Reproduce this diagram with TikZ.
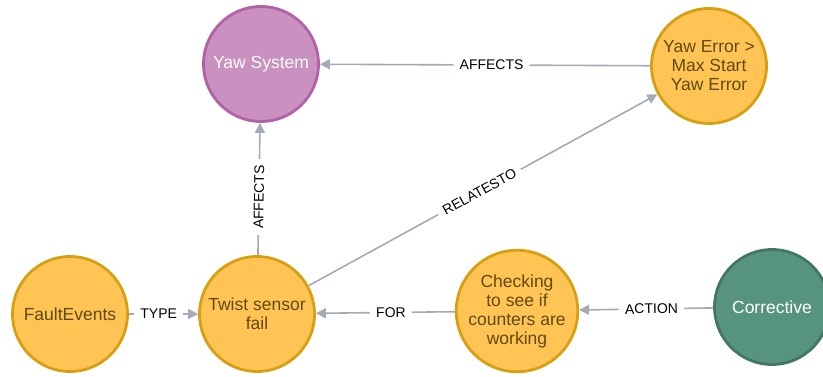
\documentclass[tikz,border=0pt]{standalone}
\usepackage{fontspec}
\setmainfont{Liberation Sans}
\usepackage{xcolor}
\usetikzlibrary{arrows.meta,positioning}

\definecolor{sysfill}{HTML}{C990C0}
\definecolor{sysline}{HTML}{B261A5}
\definecolor{evfill}{HTML}{FFC454}
\definecolor{evline}{HTML}{D7A013}
\definecolor{evtext}{HTML}{604A0E}
\definecolor{actfill}{HTML}{569480}
\definecolor{actline}{HTML}{447666}
\definecolor{relgray}{HTML}{A5ABB6}

\tikzset{
  gnode/.style={circle, line width=2.8pt, minimum size=115pt, inner sep=0pt,
    align=center, font=\fontsize{17.5}{19}\selectfont},
  sysnode/.style={gnode, draw=sysline, fill=sysfill, text=white},
  evnode/.style={gnode, draw=evline, fill=evfill, text=evtext},
  actnode/.style={gnode, draw=actline, fill=actfill, text=white},
  rel/.style={draw=relgray, line width=1.6pt, -{Triangle[length=10pt,width=10pt]}},
  rellabel/.style={fill=white, text=black, sloped, inner xsep=6pt, inner ysep=2pt,
    font=\fontsize{14}{16}\selectfont}
}

\begin{document}
\begin{tikzpicture}[x=1pt, y=-1pt]
\useasboundingbox (0,0) rectangle (823,377);

% Top row
\node[sysnode] (yawsys) at (261,64) {Yaw System};
\node[evnode] (yawerr) at (709,66) {Yaw Error >\\Max Start\\Yaw Error};

% Bottom row
\node[evnode] (faultev) at (70,314) {FaultEvents};
\node[evnode] (twist) at (257,314) {Twist sensor\\fail};
\node[evnode] (checking) at (517,311) {Checking\\to see if\\counters are\\working};
\node[actnode] (corrective) at (772,307) {Corrective};

% Relationships (label sits on the shaft, clear of the tip)
\foreach \from/\to/\lbl/\p in {yawerr/yawsys/AFFECTS/0.48, twist/yawsys/AFFECTS/0.44,
    twist/yawerr/RELATESTO/0.49, faultev/twist/TYPE/0.43, checking/twist/FOR/0.46,
    corrective/checking/ACTION/0.46}
  \draw[rel] (\from) -- node[rellabel, pos=\p] {\lbl} (\to);

\end{tikzpicture}
\end{document}
